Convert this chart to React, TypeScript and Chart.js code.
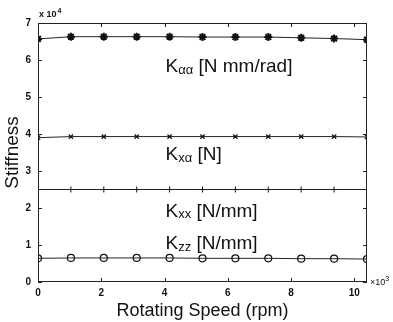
import React, { useEffect, useRef } from "react";
import { Chart, registerables } from "chart.js";

Chart.register(...registerables);

// Rotating speed (x 10^3 rpm)
const speeds = [0, 1.04, 2.08, 3.12, 4.16, 5.2, 6.24, 7.28, 8.32, 9.36, 10.4];
// Stiffness values (x 10^4)
const kAlphaAlpha = [6.57, 6.63, 6.63, 6.63, 6.63, 6.62, 6.62, 6.62, 6.6, 6.58, 6.55];
const kXAlpha = [3.9, 3.93, 3.93, 3.93, 3.93, 3.93, 3.93, 3.93, 3.93, 3.93, 3.92];
const kXX = [2.5, 2.5, 2.5, 2.5, 2.5, 2.5, 2.5, 2.5, 2.5, 2.5, 2.5];
const kZZ = [0.64, 0.65, 0.65, 0.65, 0.65, 0.64, 0.64, 0.64, 0.63, 0.63, 0.62];

const xTicks = [0, 2, 4, 6, 8, 10];
const yTicks = [0, 1, 2, 3, 4, 5, 6, 7];

// annotation labels: [main, subscript, rest, x (data), y (data)]
const labels: [string, string, string, number, number][] = [
  ["K", "\u03b1\u03b1", " [N mm/rad]", 4.03, 5.81],
  ["K", "x\u03b1", " [N]", 4.03, 3.43],
  ["K", "xx", " [N/mm]", 4.03, 1.9],
  ["K", "zz", " [N/mm]", 4.03, 1.02],
];

const FONT = "'Liberation Sans', Arial, Helvetica, sans-serif";

const pts = (ys: number[]) => speeds.map((x, i) => ({ x, y: ys[i] }));

export default function App() {
  const ref = useRef<HTMLCanvasElement>(null);

  useEffect(() => {
    const canvas = ref.current;
    if (!canvas) return;

    const decor = {
      id: "decor",
      afterDraw(chart: any) {
        const ctx = chart.ctx;
        const { left, right, top, bottom } = chart.chartArea;
        const xs = chart.scales.x;
        const ys = chart.scales.y;
        ctx.save();
        ctx.strokeStyle = "#222";
        ctx.lineWidth = 1;
        ctx.strokeRect(left + 0.5, top + 0.5, right - left - 1, bottom - top - 1);
        const tl = 4;
        ctx.beginPath();
        for (const v of xTicks) {
          const px = Math.round(xs.getPixelForValue(v)) + 0.5;
          ctx.moveTo(px, bottom);
          ctx.lineTo(px, bottom - tl);
          ctx.moveTo(px, top);
          ctx.lineTo(px, top + tl);
        }
        for (const v of yTicks) {
          const py = Math.round(ys.getPixelForValue(v)) + 0.5;
          ctx.moveTo(left, py);
          ctx.lineTo(left + tl, py);
          ctx.moveTo(right, py);
          ctx.lineTo(right - tl, py);
        }
        ctx.stroke();

        // annotations
        ctx.fillStyle = "#111";
        ctx.textBaseline = "middle";
        ctx.textAlign = "left";
        for (const [main, sub, rest, dx, dy] of labels) {
          let x = xs.getPixelForValue(dx);
          const y = ys.getPixelForValue(dy);
          ctx.font = `19px ${FONT}`;
          ctx.fillText(main, x, y);
          x += ctx.measureText(main).width;
          ctx.font = `13px ${FONT}`;
          ctx.fillText(sub, x, y + 3);
          x += ctx.measureText(sub).width;
          ctx.font = `19px ${FONT}`;
          ctx.fillText(rest, x, y);
        }

        // exponent labels
        ctx.font = `bold 9px ${FONT}`;
        ctx.fillText("x 10", left + 1, top - 8);
        const w1 = ctx.measureText("x 10").width;
        ctx.font = `bold 7px ${FONT}`;
        ctx.fillText("4", left + 1 + w1 + 1, top - 12);
        ctx.font = `9px ${FONT}`;
        ctx.fillText("\u00d710", right + 3, bottom + 1);
        const w2 = ctx.measureText("\u00d710").width;
        ctx.font = `7px ${FONT}`;
        ctx.fillText("3", right + 3 + w2, bottom - 3);

        // axis titles
        ctx.textAlign = "center";
        ctx.font = `18px ${FONT}`;
        ctx.fillText("Rotating Speed (rpm)", (left + right) / 2, 311);
        ctx.save();
        ctx.translate(13, (top + bottom) / 2);
        ctx.rotate(-Math.PI / 2);
        ctx.font = `19px ${FONT}`;
        ctx.fillText("Stiffness", 0, 0);
        ctx.restore();
        ctx.restore();
      },
    };

    const common = {
      borderColor: "#222",
      borderWidth: 1,
      pointBorderColor: "#111",
      pointBackgroundColor: "rgba(0,0,0,0)",
      tension: 0,
    };

    const chart = new Chart(canvas, {
      type: "line",
      data: {
        datasets: [
          { ...common, label: "Kaa", data: pts(kAlphaAlpha), pointStyle: "star", pointRadius: 4, pointBorderWidth: 2 },
          { ...common, label: "Kxa", data: pts(kXAlpha), pointStyle: "crossRot", pointRadius: 3, pointBorderWidth: 1.2 },
          { ...common, label: "Kxx", data: pts(kXX), pointStyle: "cross", pointRadius: 3, pointBorderWidth: 1 },
          { ...common, label: "Kzz", data: pts(kZZ), pointStyle: "circle", pointRadius: 3.5, pointBorderWidth: 1.2 },
        ],
      } as any,
      options: {
        animation: false,
        responsive: false,
        maintainAspectRatio: false,
        layout: { padding: { left: 0, right: 26, top: 23, bottom: 0 } },
        plugins: { legend: { display: false }, tooltip: { enabled: false } },
        scales: {
          x: {
            type: "linear",
            min: 0,
            max: 10.4,
            grid: { display: false, drawTicks: false },
            border: { display: false },
            afterFit: (s: any) => { s.height = 40; },
            afterBuildTicks: (s: any) => { s.ticks = xTicks.map((v) => ({ value: v })); },
            ticks: { padding: 5, color: "#111", font: { family: FONT, size: 10, weight: "bold" }, maxRotation: 0 },
          },
          y: {
            type: "linear",
            min: 0,
            max: 7,
            grid: { display: false, drawTicks: false },
            border: { display: false },
            afterFit: (s: any) => { s.width = 38; },
            afterBuildTicks: (s: any) => { s.ticks = yTicks.map((v) => ({ value: v })); },
            ticks: { padding: 7, color: "#111", font: { family: FONT, size: 10, weight: "bold" } },
          },
        },
      } as any,
      plugins: [decor],
    });
    return () => chart.destroy();
  }, []);

  return (
    <div style={{ position: "fixed", left: 0, top: 0, width: 393, height: 322, background: "#fff" }}>
      <canvas ref={ref} width={393} height={322} style={{ display: "block", width: 393, height: 322 }} />
    </div>
  );
}
